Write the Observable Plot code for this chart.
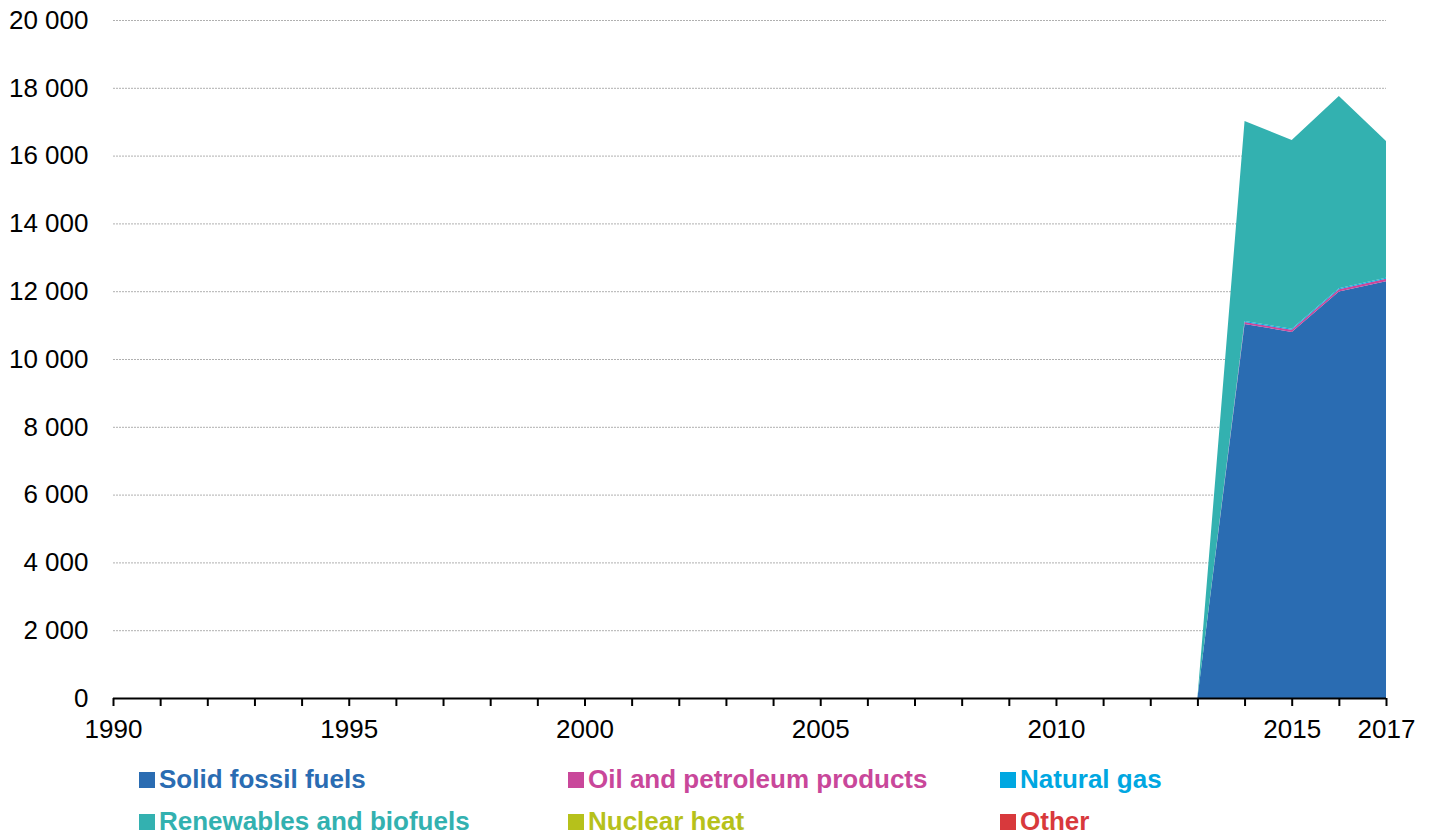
<!DOCTYPE html>
<html>
<head>
<meta charset="utf-8">
<script src="https://cdn.jsdelivr.net/npm/d3@7"></script>
<script src="https://cdn.jsdelivr.net/npm/@observablehq/plot@0.6"></script>
<style>
  html, body { margin: 0; padding: 0; background: #fff; }
  body { width: 1433px; height: 834px; overflow: hidden; font-family: "Liberation Sans", Arial, sans-serif; }
  #chart svg { display: block; }
  #legend { position: relative; height: 74px; }
  .item { position: absolute; font-weight: bold; font-size: 26px; line-height: 24px; white-space: nowrap; }
  .sw { display: inline-block; width: 16px; height: 16px; margin-right: 4px; vertical-align: 0px; }
</style>
</head>
<body>
<div id="chart"></div>
<div id="legend"></div>
<script>
const years = [2013, 2014, 2015, 2016, 2017];
const fuels = ["Solid fossil fuels", "Oil and petroleum products", "Natural gas", "Renewables and biofuels", "Nuclear heat", "Other"];
const colors = ["#2a6cb2", "#c9479a", "#00a7e1", "#33b1b0", "#b6c11b", "#d8393c"];
const solid = [0, 11030, 10800, 11990, 12290];
const oil = [0, 60, 60, 70, 80];
const gas = [0, 30, 30, 30, 30];
const renewables = [0, 5900, 5570, 5670, 4030];
const nuclear = [0, 0, 0, 0, 0];
const other = [0, 0, 0, 0, 0];
const xTickLabels = [1990, 1995, 2000, 2005, 2010, 2015, 2017];
const yTicks = [0, 2000, 4000, 6000, 8000, 10000, 12000, 14000, 16000, 18000, 20000];

const series = [solid, oil, gas, renewables, nuclear, other];
const data = [];
fuels.forEach((f, i) => years.forEach((y, j) => data.push({year: y, fuel: f, value: series[i][j]})));

const fmt = d => d3.format(",")(d).replace(/,/g, " ");

const chart = Plot.plot({
  width: 1433,
  height: 760,
  marginLeft: 113,
  marginRight: 47,
  marginTop: 20,
  marginBottom: 62,
  style: {fontFamily: "Liberation Sans, Arial, sans-serif", fontSize: "26px", color: "#000", background: "#fff"},
  x: {domain: [1990, 2017]},
  y: {domain: [0, 20000]},
  color: {domain: fuels, range: colors},
  marks: [
    Plot.ruleY(yTicks.filter(d => d > 0), {stroke: "#b0b0b0", strokeWidth: 1, strokeDasharray: "2,1"}),
    Plot.areaY(data, {x: "year", y: "value", fill: "fuel", order: fuels}),
    Plot.axisY({ticks: yTicks, tickSize: 0, tickPadding: 25, tickFormat: fmt, label: null, fontSize: 26}),
    Plot.axisX({ticks: d3.range(1990, 2018), tickSize: 8, tickPadding: 13, tickFormat: d => xTickLabels.includes(d) ? String(d) : "", label: null, fontSize: 26, stroke: "#000", strokeWidth: 2}),
    Plot.ruleY([0], {stroke: "#000", strokeWidth: 2})
  ]
});
document.getElementById("chart").appendChild(chart);

const leg = document.getElementById("legend");
const pos = [[139, 7], [568, 7], [1000, 7], [139, 49], [568, 49], [1000, 49]];
fuels.forEach((f, i) => {
  const d = document.createElement("div");
  d.className = "item";
  d.style.left = pos[i][0] + "px";
  d.style.top = pos[i][1] + "px";
  d.style.color = colors[i];
  d.innerHTML = `<span class="sw" style="background:${colors[i]}"></span>${f}`;
  leg.appendChild(d);
});
</script>
</body>
</html>
